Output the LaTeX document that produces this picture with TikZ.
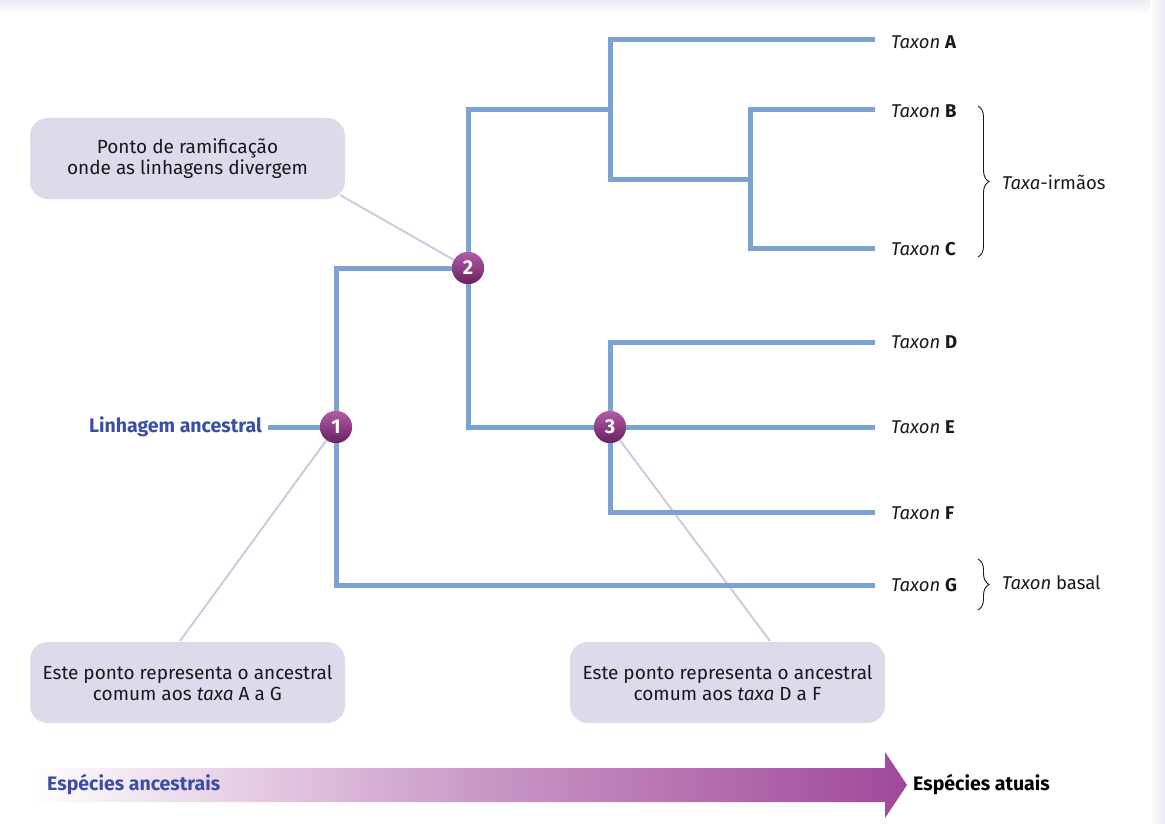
\documentclass[tikz,border=0pt]{standalone}
\usepackage{fontspec}
\setmainfont{Fira Sans}
\usetikzlibrary{decorations.pathreplacing,calc}
\definecolor{branchblue}{RGB}{122,163,212}
\definecolor{boxfill}{RGB}{220,218,235}
\definecolor{pointerc}{RGB}{205,203,226}
\definecolor{labelblue}{RGB}{58,78,168}
\definecolor{arrowpurple}{RGB}{160,72,154}
\definecolor{dottop}{RGB}{178,92,168}
\definecolor{dotbot}{RGB}{105,32,96}
\definecolor{edgegray}{RGB}{236,235,243}
\definecolor{txt}{RGB}{25,25,25}
\begin{document}
\begin{tikzpicture}[x=1pt,y=-1pt,
  br/.style={draw=branchblue,line width=5pt},
  dot/.style={circle,minimum size=32pt,inner sep=0pt,top color=dottop,bottom color=dotbot,
    text=white,font=\fontsize{20}{20}\selectfont\bfseries},
  infobox/.style={fill=boxfill,rounded corners=18pt,minimum width=315pt,minimum height=81pt,
    align=center,text=txt,font=\fontsize{19}{21}\selectfont},
  pointer/.style={draw=pointerc,line width=2pt},
  taxon/.style={anchor=west,inner sep=0pt,text=txt,font=\fontsize{18.5}{20}\selectfont},
  bracelab/.style={anchor=west,inner sep=0pt,text=txt,font=\fontsize{18.5}{20}\selectfont},
  brc/.style={draw=txt,line width=0.9pt,decorate,decoration={brace,amplitude=11pt}}]
\useasboundingbox (0,0) rectangle (1165,824);
\fill[white] (0,0) rectangle (1165,824);
\shade[top color=edgegray,bottom color=white] (0,0) rectangle (1165,14);
\shade[left color=white,right color=edgegray] (1150,0) rectangle (1165,824);

% info boxes
\node[infobox] (box1) at (187.5,158.5) {Ponto de ramificação\\onde as linhagens divergem};
\node[infobox] (box2) at (187.5,682.5) {Este ponto representa o ancestral\\comum aos \textit{taxa} A a G};
\node[infobox] (box3) at (727.5,682.5) {Este ponto representa o ancestral\\comum aos \textit{taxa} D a F};

% nodes of the tree
\coordinate (root) at (268,427);
\node[dot] (n1) at (336,427) {};
\node[dot] (n2) at (468,268) {};
\node[dot] (n3) at (610,427) {};
\coordinate (jA) at (610,110);
\coordinate (jB) at (750,180);

\node[taxon] (tA) at (891,42) {\textit{Taxon} \textbf{A}};
\node[taxon] (tB) at (891,111) {\textit{Taxon} \textbf{B}};
\node[taxon] (tC) at (891,249) {\textit{Taxon} \textbf{C}};
\node[taxon] (tD) at (891,342) {\textit{Taxon} \textbf{D}};
\node[taxon] (tE) at (891,427) {\textit{Taxon} \textbf{E}};
\node[taxon] (tF) at (891,513) {\textit{Taxon} \textbf{F}};
\node[taxon] (tG) at (891,585) {\textit{Taxon} \textbf{G}};
\coordinate (eA) at (875,40);
\coordinate (eB) at (875,110);
\coordinate (eC) at (875,248);
\coordinate (eD) at (875,342);
\coordinate (eE) at (875,427);
\coordinate (eF) at (875,512);
\coordinate (eG) at (875,585);

% pointers
\draw[pointer] (340,195) -- (n2.center);
\draw[pointer] (180,641) -- (n1.center);
\draw[pointer] (770,641) -- (n3.center);

% branches
\draw[br] (root) -- (n1.center);
\draw[br] (n2.center) -| (n1.center);
\draw[br] (n1.center) |- (eG);
\draw[br] (eE) -| (n2.center);
\draw[br] (jA) -| (n2.center);
\draw[br] (eA) -| (jA |- jB) -- (jB);
\draw[br] (eB) -| (jB);
\draw[br] (eC) -| (jB);
\draw[br] (eD) -| (n3.center);
\draw[br] (eF) -| (n3.center);

% dots on top
\node[dot] at (n1) {1};
\node[dot] at (n2) {2};
\node[dot] at (n3) {3};

% ancestral lineage label
\node[anchor=east,inner sep=0pt,text=labelblue,font=\fontsize{19.5}{20}\selectfont\bfseries] (lin) at (262,427) {Linhagem ancestral};

% braces
\coordinate (bt1) at (978,106);
\coordinate (bb1) at (978,257);
\draw[brc] (bt1) -- (bb1);
\node[bracelab] (irm) at (1002,182) {\textit{Taxa}-irmãos};
\coordinate (bt2) at (978,559);
\coordinate (bb2) at (978,610);
\draw[brc] (bt2) -- (bb2);
\node[bracelab] (bas) at (1002,583) {\textit{Taxon} basal};

% time arrow
\shade[left color=white,right color=arrowpurple,middle color={arrowpurple!55!white}]
  (28,768) -- (885,768) -- (885,752) -- (907,785) -- (885,818) -- (885,802) -- (28,802) -- cycle;
\coordinate (arrtip) at (907,785);
\node[anchor=west,inner sep=0pt,text=labelblue,font=\fontsize{19.5}{20}\selectfont\bfseries] (anc) at (47,785) {Espécies ancestrais};
\node[anchor=west,inner sep=0pt,text=black,font=\fontsize{19.5}{20}\selectfont\bfseries] (atu) at (913,785) {Espécies atuais};
\end{tikzpicture}
\end{document}
